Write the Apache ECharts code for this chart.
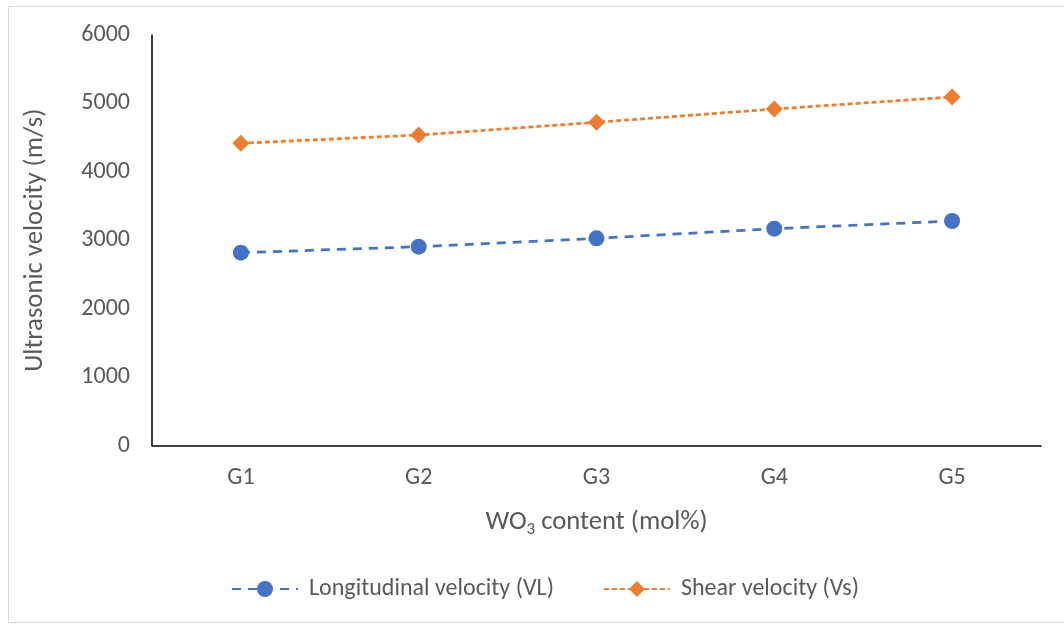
<!DOCTYPE html>
<html><head><meta charset="utf-8">
<script src="https://cdn.jsdelivr.net/npm/echarts@6/dist/echarts.min.js"></script>
<style>html,body{margin:0;padding:0;background:#fff}#c{width:1064px;height:625px}</style>
</head><body><div id="c"></div>
<script>
const categories = ['G1','G2','G3','G4','G5'];
const longitudinal = [2818, 2906, 3028, 3169, 3281];
const shear = [4417, 4538, 4724, 4918, 5094];
const yTicks = [0, 1000, 2000, 3000, 4000, 5000, 6000];

const font = 'Carlito, Calibri, "Open Sans", "Liberation Sans", sans-serif';
const txt = '#595959';
const chart = echarts.init(document.getElementById('c'), null, {renderer:'canvas'});
chart.setOption({
  animation:false,
  textStyle:{fontFamily:font},
  graphic:[{type:'rect', shape:{x:8.5,y:6.5,width:1070,height:616}, style:{fill:'none', stroke:'#d9d9d9', lineWidth:1}, silent:true, z:-1}],
  grid:{left:152, right:23, top:35, bottom:179.5, containLabel:false},
  xAxis:{type:'category', data:categories, boundaryGap:true,
    axisLine:{lineStyle:{color:'#000', width:1.5}}, axisTick:{show:false},
    axisLabel:{color:txt, fontSize:24, margin:20, fontFamily:font},
    name:'WO{sub|3} content (mol%)', nameLocation:'middle', nameGap:60,
    nameTextStyle:{color:txt, fontSize:26.7, fontFamily:font,
      rich:{sub:{fontSize:17, color:txt, fontFamily:font, padding:[16,0,0,0]}}}},
  yAxis:{type:'value', min:yTicks[0], max:yTicks[yTicks.length-1], interval:1000,
    axisLine:{show:true, lineStyle:{color:'#000', width:1.5}}, axisTick:{show:false},
    splitLine:{show:false},
    axisLabel:{color:txt, fontSize:24, margin:22, fontFamily:font, formatter:(v)=>String(v)},
    name:'Ultrasonic velocity (m/s)', nameLocation:'middle', nameGap:103, nameRotate:90,
    nameTextStyle:{color:txt, fontSize:26.7, fontFamily:font}},
  legend:{bottom:19, left:226, itemGap:49, itemWidth:66, itemHeight:20,
    textStyle:{color:txt, fontSize:24, fontFamily:font, padding:[0,0,0,6]},
    data:['Longitudinal velocity (VL)','Shear velocity (Vs)']},
  series:[
    {name:'Longitudinal velocity (VL)', type:'line', data:longitudinal,
      symbol:'circle', symbolSize:16, color:'#4472C4',
      lineStyle:{color:'#4472C4', width:2.75, type:[9,7]},
      itemStyle:{color:'#4472C4'}},
    {name:'Shear velocity (Vs)', type:'line', data:shear,
      symbol:'diamond', symbolSize:[17,17], color:'#ED7D31',
      lineStyle:{color:'#ED7D31', width:2.75, type:[5,3]},
      itemStyle:{color:'#ED7D31'}}
  ]
});
</script></body></html>
